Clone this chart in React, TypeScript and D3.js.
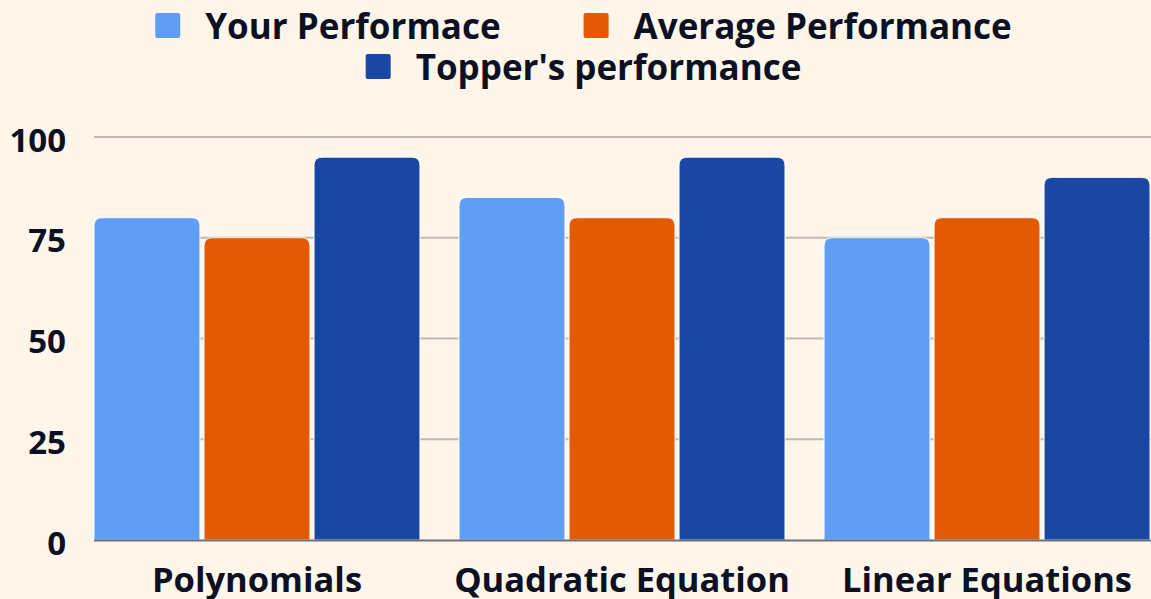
import React, { useEffect, useRef } from 'react';
import * as d3 from 'd3';

const topics = ['Polynomials', 'Quadratic Equation', 'Linear Equations'];
const seriesNames = ['Your Performace', 'Average Performance', "Topper's performance"];
const yourScores = [80, 85, 75];
const averageScores = [75, 80, 80];
const topperScores = [95, 95, 90];
const yTicks = [0, 25, 50, 75, 100];

const colors = ['#609ef6', '#e35a05', '#1947a3'];
const W = 1151;
const H = 599;
const FONT = "'Open Sans', 'Noto Sans', sans-serif";
const INK = '#0b1022';

// rounded top corners only
function topRoundedRect(x: number, y: number, w: number, h: number, r: number) {
  const rr = Math.min(r, h, w / 2);
  return `M${x},${y + h}V${y + rr}Q${x},${y} ${x + rr},${y}H${x + w - rr}Q${x + w},${y} ${x + w},${y + rr}V${y + h}Z`;
}

const App: React.FC = () => {
  const svgRef = useRef<SVGSVGElement>(null);

  useEffect(() => {
    if (!svgRef.current) return;
    const svg = d3.select(svgRef.current);
    svg.selectAll('*').remove();

    const margin = { left: 94, right: 1, top: 137, bottom: 59 };
    const series = [yourScores, averageScores, topperScores];

    svg.append('rect').attr('width', W).attr('height', H).attr('fill', '#fef6ea');

    const y = d3.scaleLinear().domain([0, 100]).range([H - margin.bottom, margin.top]);
    const x0 = d3.scaleBand<string>()
      .domain(topics)
      .range([margin.left, W - margin.right])
      .paddingInner(0.107)
      .paddingOuter(0);
    const x1 = d3.scaleBand<number>()
      .domain(d3.range(seriesNames.length))
      .range([0, x0.bandwidth()])
      .paddingInner(0.037);

    // gridlines
    svg.append('g')
      .selectAll('line')
      .data(yTicks.filter(t => t > 0))
      .join('line')
      .attr('x1', margin.left)
      .attr('x2', W)
      .attr('y1', d => y(d))
      .attr('y2', d => y(d))
      .attr('stroke', '#c2bab2')
      .attr('stroke-width', 2);

    // y labels
    svg.append('g')
      .selectAll('text')
      .data(yTicks)
      .join('text')
      .attr('x', 66)
      .attr('y', d => y(d) + 2)
      .attr('text-anchor', 'end')
      .attr('dominant-baseline', 'central')
      .style('font-family', FONT)
      .style('font-weight', 700)
      .style('font-size', '33px')
      .style('fill', INK)
      .text(d => d);

    // bars
    topics.forEach((t, i) => {
      const g = svg.append('g').attr('transform', `translate(${x0(t)},0)`);
      series.forEach((vals, s) => {
        const v = vals[i];
        g.append('path')
          .attr('d', topRoundedRect(x1(s)!, y(v), x1.bandwidth(), y(0) - y(v), 8))
          .attr('fill', colors[s])
          .attr('stroke', '#ffffff')
          .attr('stroke-width', 1.2)
          .attr('stroke-opacity', 0.8);
      });
    });

    // baseline
    svg.append('line')
      .attr('x1', margin.left)
      .attr('x2', W)
      .attr('y1', y(0) + 0.5)
      .attr('y2', y(0) + 0.5)
      .attr('stroke', '#6e6e78')
      .attr('stroke-width', 2);

    // x labels
    svg.append('g')
      .selectAll('text')
      .data(topics)
      .join('text')
      .attr('x', d => x0(d)! + x0.bandwidth() / 2)
      .attr('y', 592)
      .attr('text-anchor', 'middle')
      .style('font-family', FONT)
      .style('font-weight', 700)
      .style('font-size', '34.5px')
      .style('fill', INK)
      .text(d => d);

    // legend, two rows centred
    const rows = [[0, 1], [2]];
    const rowBaselines = [39, 80];
    const legendCenter = 583.5;
    const sw = 25;
    const swGap = 25;
    const itemGap = 83;
    rows.forEach((row, r) => {
      const lg = svg.append('g');
      let cx = 0;
      row.forEach(s => {
        const it = lg.append('g').attr('transform', `translate(${cx},0)`);
        it.append('rect')
          .attr('x', 0)
          .attr('y', rowBaselines[r] - 26)
          .attr('width', sw)
          .attr('height', sw)
          .attr('rx', 2)
          .attr('fill', colors[s]);
        const txt = it.append('text')
          .attr('x', sw + swGap)
          .attr('y', rowBaselines[r])
          .style('font-family', FONT)
          .style('font-weight', 700)
          .style('font-size', '35px')
          .style('fill', INK)
          .text(seriesNames[s]);
        const tw = (txt.node() as SVGTextElement).getComputedTextLength();
        cx += sw + swGap + tw + itemGap;
      });
      const total = cx - itemGap;
      lg.attr('transform', `translate(${legendCenter - total / 2},0)`);
    });
  }, []);

  return (
    <div style={{ position: 'fixed', left: 0, top: 0, width: W, height: H }}>
      <svg ref={svgRef} width={W} height={H} />
    </div>
  );
};

export default App;
